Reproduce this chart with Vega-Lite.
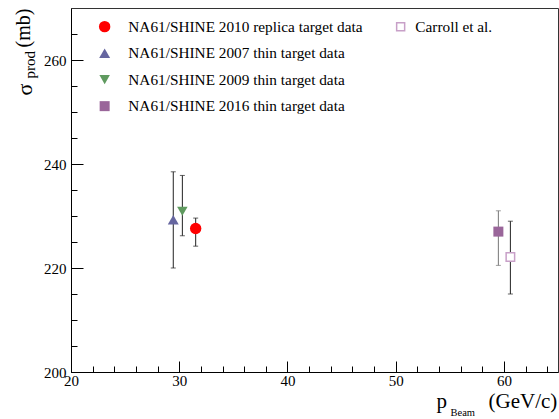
{
  "$schema": "https://vega.github.io/schema/vega-lite/v6.json",
  "width": 487,
  "height": 364,
  "autosize": {"type": "none"},
  "padding": {"left": 71, "top": 8, "right": 1, "bottom": 47},
  "background": "white",
  "config": {
    "view": {"stroke": "#333", "strokeWidth": 1},
    "font": "Liberation Serif",
    "axis": {
      "grid": false,
      "labelFont": "Liberation Serif",
      "titleFont": "Liberation Serif",
      "titleFontWeight": "normal",
      "titleColor": "black",
      "labelColor": "black",
      "tickColor": "black",
      "domainColor": "black"
    },
    "legend": {
      "labelFont": "Liberation Serif",
      "labelFontSize": 15.3,
      "labelColor": "black",
      "padding": 0,
      "rowPadding": 10.5,
      "orient": "none",
      "direction": "vertical",
      "title": null,
      "labelLimit": 400
    }
  },
  "data": {
    "values": [
      {"series": "NA61/SHINE 2010 replica target data", "group": "NA61", "p": 31.52, "sigma": 227.6, "lo": 224.2, "hi": 229.6, "barColor": "#222222"},
      {"series": "NA61/SHINE 2007 thin target data", "group": "NA61", "p": 29.45, "sigma": 229.3, "lo": 220.0, "hi": 238.5, "barColor": "#222222"},
      {"series": "NA61/SHINE 2009 thin target data", "group": "NA61", "p": 30.29, "sigma": 230.9, "lo": 226.2, "hi": 237.8, "barColor": "#222222"},
      {"series": "NA61/SHINE 2016 thin target data", "group": "NA61", "p": 59.49, "sigma": 227.0, "lo": 220.5, "hi": 231.0, "barColor": "#777777"},
      {"series": "Carroll et al.", "group": "Carroll", "p": 60.6, "sigma": 222.1, "lo": 215.0, "hi": 229.0, "barColor": "#222222"}
    ]
  },
  "layer": [
    {
      "mark": {"type": "errorbar", "ticks": {"size": 5, "thickness": 1}, "thickness": 1},
      "encoding": {
        "x": {
          "field": "p", "type": "quantitative",
          "scale": {"domain": [20, 65], "nice": false, "zero": false},
          "axis": {
            "orient": "bottom", "values": [20, 30, 40, 50, 60], "tickSize": -11,
            "labelPadding": 12, "labelFontSize": 15, "labelFont": "Liberation Serif", "labelFlush": false, "labelOverlap": false,
            "title": "p", "titleFontSize": 21, "titleX": 365, "titleY": 35.5,
            "titleAlign": "left", "titleBaseline": "alphabetic", "titleAnchor": null
          }
        },
        "y": {
          "field": "lo", "type": "quantitative",
          "scale": {"domain": [200, 270], "nice": false, "zero": false},
          "axis": {
            "orient": "left", "values": [200, 220, 240, 260], "tickSize": -12,
            "labelPadding": 17, "labelFontSize": 15, "labelFont": "Liberation Serif", "labelFlush": false, "labelOverlap": false,
            "title": "σ", "titleFontSize": 22, "titleAngle": 270, "titleX": -40, "titleY": 87,
            "titleAlign": "left", "titleBaseline": "alphabetic", "titleAnchor": null
          }
        },
        "y2": {"field": "hi"},
        "color": {"field": "barColor", "type": "nominal", "scale": null}
      }
    },
    {
      "transform": [{"filter": "datum.group == 'NA61'"}],
      "mark": {"type": "point", "filled": true, "opacity": 1},
      "encoding": {
        "x": {
          "field": "p", "type": "quantitative",
          "scale": {"domain": [20, 65], "nice": false, "zero": false},
          "axis": {
            "orient": "bottom", "values": [22, 24, 26, 28, 32, 34, 36, 38, 42, 44, 46, 48, 52, 54, 56, 58, 62, 64],
            "tickSize": -6, "labels": false, "domain": false,
            "title": "Beam", "titleFontSize": 10.5, "titleX": 379, "titleY": 43.5,
            "titleAlign": "left", "titleBaseline": "alphabetic", "titleAnchor": null
          }
        },
        "y": {
          "field": "sigma", "type": "quantitative",
          "scale": {"domain": [200, 270], "nice": false, "zero": false},
          "axis": {
            "orient": "left", "values": [205, 210, 215, 225, 230, 235, 245, 250, 255, 265],
            "tickSize": -6, "labels": false, "domain": false,
            "title": "prod", "titleFontSize": 15, "titleAngle": 270, "titleX": -37, "titleY": 70,
            "titleAlign": "left", "titleBaseline": "alphabetic", "titleAnchor": null
          }
        },
        "shape": {
          "field": "series", "type": "nominal",
          "scale": {
            "domain": ["NA61/SHINE 2010 replica target data", "NA61/SHINE 2007 thin target data", "NA61/SHINE 2009 thin target data", "NA61/SHINE 2016 thin target data"],
            "range": ["circle", "triangle-up", "triangle-down", "square"]
          },
          "legend": {"legendX": 26, "legendY": 11, "labelOffset": 16, "labelFont": "Liberation Serif"}
        },
        "color": {
          "field": "series", "type": "nominal",
          "scale": {
            "domain": ["NA61/SHINE 2010 replica target data", "NA61/SHINE 2007 thin target data", "NA61/SHINE 2009 thin target data", "NA61/SHINE 2016 thin target data"],
            "range": ["#ff0000", "#6666a0", "#5f9a5f", "#9a669a"]
          },
          "legend": {"legendX": 26, "legendY": 11, "labelOffset": 16, "labelFont": "Liberation Serif"}
        },
        "size": {
          "field": "series", "type": "nominal",
          "scale": {
            "domain": ["NA61/SHINE 2010 replica target data", "NA61/SHINE 2007 thin target data", "NA61/SHINE 2009 thin target data", "NA61/SHINE 2016 thin target data"],
            "range": [130, 100, 100, 72]
          },
          "legend": {"legendX": 26, "legendY": 11, "labelOffset": 16, "labelFont": "Liberation Serif"}
        }
      }
    },
    {
      "transform": [{"filter": "datum.group == 'Carroll'"}],
      "mark": {"type": "point", "filled": true, "fill": "white", "stroke": "#c8a0c8", "strokeWidth": 1.5, "size": 72, "opacity": 1},
      "encoding": {
        "x": {
          "field": "p", "type": "quantitative",
          "scale": {"domain": [20, 65], "nice": false, "zero": false},
          "axis": {
            "orient": "bottom", "ticks": false, "labels": false, "domain": false,
            "title": "(GeV/c)", "titleFontSize": 21, "titleX": 417, "titleY": 35.5,
            "titleAlign": "left", "titleBaseline": "alphabetic", "titleAnchor": null
          }
        },
        "y": {
          "field": "sigma", "type": "quantitative",
          "scale": {"domain": [200, 270], "nice": false, "zero": false},
          "axis": {
            "orient": "left", "ticks": false, "labels": false, "domain": false,
            "title": "(mb)", "titleFontSize": 20, "titleAngle": 270, "titleX": -42, "titleY": 39,
            "titleAlign": "left", "titleBaseline": "alphabetic", "titleAnchor": null
          }
        },
        "shape": {
          "field": "series", "type": "nominal",
          "scale": {"domain": ["Carroll et al."], "range": ["square"]},
          "legend": {
            "legendX": 322, "legendY": 11, "labelOffset": 7, "labelFont": "Liberation Serif",
            "symbolSize": 64,
            "encode": {
              "symbols": {
                "update": {
                  "fill": {"value": "white"},
                  "stroke": {"value": "#c8a0c8"},
                  "strokeWidth": {"value": 1.5},
                  "opacity": {"value": 1}
                }
              }
            }
          }
        }
      }
    }
  ],
  "resolve": {
    "scale": {"color": "independent", "shape": "independent", "size": "independent"},
    "axis": {"x": "independent", "y": "independent"},
    "legend": {"color": "independent", "shape": "independent", "size": "independent"}
  }
}
